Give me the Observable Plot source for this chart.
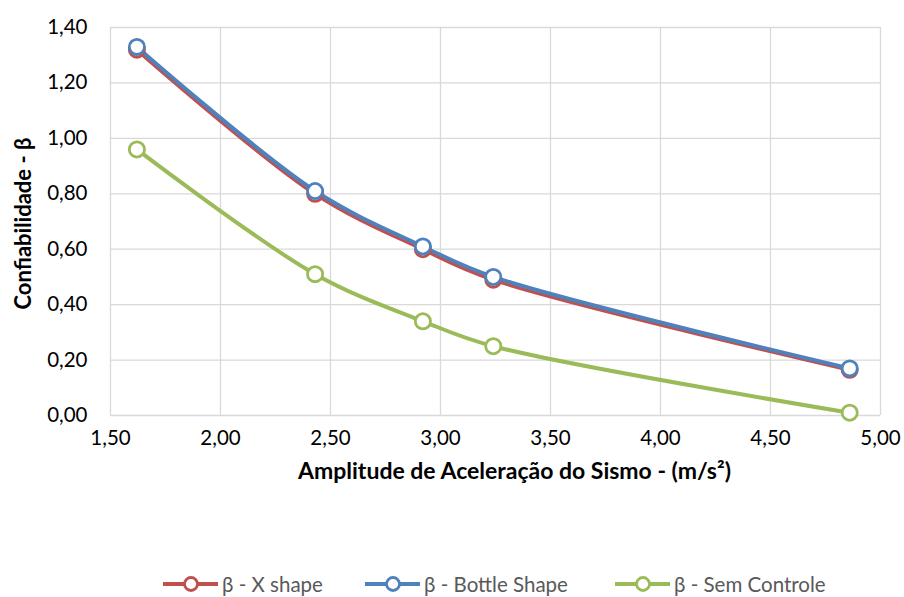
<!DOCTYPE html>
<html>
<head>
<meta charset="utf-8">
<script src="https://cdn.jsdelivr.net/npm/d3@7"></script>
<script src="https://cdn.jsdelivr.net/npm/@observablehq/plot@0.6"></script>
<style>
  html, body { margin: 0; padding: 0; background: #fff; }
  body { width: 904px; height: 597px; overflow: hidden; font-family: Lato, "Open Sans", sans-serif; }
  #legend { position: relative; height: 87px; }
  .item { position: absolute; top: 62px; height: 24px; display: flex; align-items: center; font-size: 20.5px; line-height: 24px; color: #595959; white-space: nowrap; }
  .item svg { margin-right: 3px; }
</style>
</head>
<body>
<div id="chart"></div>
<div id="legend"></div>
<script>
const accel = [1.62, 2.43, 2.92, 3.24, 4.86];
const xShape = [1.32, 0.80, 0.60, 0.49, 0.165];
const bottleShape = [1.33, 0.81, 0.61, 0.50, 0.17];
const semControle = [0.96, 0.51, 0.34, 0.25, 0.01];
const seriesNames = ["β - X shape", "β - Bottle Shape", "β - Sem Controle"];
const seriesColors = ["#C0504D", "#4F81BD", "#9BBB59"];
const xTicks = [1.5, 2.0, 2.5, 3.0, 3.5, 4.0, 4.5, 5.0];
const yTicks = [0, 0.2, 0.4, 0.6, 0.8, 1.0, 1.2, 1.4];
const xLabel = "Amplitude de Aceleração do Sismo - (m/s²)";
const yLabel = "Confiabilidade - β";

const allSeries = [xShape, bottleShape, semControle];
const data = [];
allSeries.forEach((vals, i) => vals.forEach((v, j) => data.push({series: seriesNames[i], x: accel[j], y: v})));

const fmt = d => d.toFixed(2).replace(".", ",");

const chart = Plot.plot({
  width: 904,
  height: 510,
  marginLeft: 110,
  marginRight: 24,
  marginTop: 27,
  marginBottom: 95,
  style: {fontFamily: "Lato, 'Open Sans', sans-serif", fontSize: "20px", color: "#000", background: "#fff"},
  x: {domain: [1.5, 5.0]},
  y: {domain: [0, 1.4]},
  color: {domain: seriesNames, range: seriesColors},
  marks: [
    Plot.gridX(xTicks, {stroke: "#D9D9D9", strokeOpacity: 1, strokeWidth: 1.3}),
    Plot.gridY(yTicks, {stroke: "#D9D9D9", strokeOpacity: 1, strokeWidth: 1.3}),
    Plot.axisX(xTicks, {tickSize: 0, tickPadding: 15, tickFormat: fmt, label: null, fontSize: 20.5}),
    Plot.axisY(yTicks, {tickSize: 0, tickPadding: 23, tickFormat: fmt, label: null, fontSize: 20.5}),
    Plot.line(data, {x: "x", y: "y", stroke: "series", z: "series", curve: "catmull-rom", strokeWidth: 4}),
    Plot.dot(data, {x: "x", y: "y", stroke: "series", fill: "white", r: 7.6, strokeWidth: 2.8}),
    Plot.text([xLabel], {frameAnchor: "bottom", dy: 63, dx: 19, fontWeight: "bold", fontSize: 23, fill: "#000"}),
    Plot.text([yLabel], {frameAnchor: "left", textAnchor: "middle", dx: -87, dy: 2, rotate: -90, fontWeight: "bold", fontSize: 22, fill: "#000"})
  ]
});
document.getElementById("chart").appendChild(chart);

const legendX = [163, 365, 615];
const legend = document.getElementById("legend");
seriesNames.forEach((name, i) => {
  const item = document.createElement("div");
  item.className = "item";
  item.style.left = legendX[i] + "px";
  const c = seriesColors[i];
  item.innerHTML = `<svg width="56" height="20"><line x1="0" y1="10" x2="55" y2="10" stroke="${c}" stroke-width="4"/><circle cx="28" cy="10" r="6.5" fill="white" stroke="${c}" stroke-width="2.8"/></svg><span>${name}</span>`;
  legend.appendChild(item);
});
</script>
</body>
</html>
